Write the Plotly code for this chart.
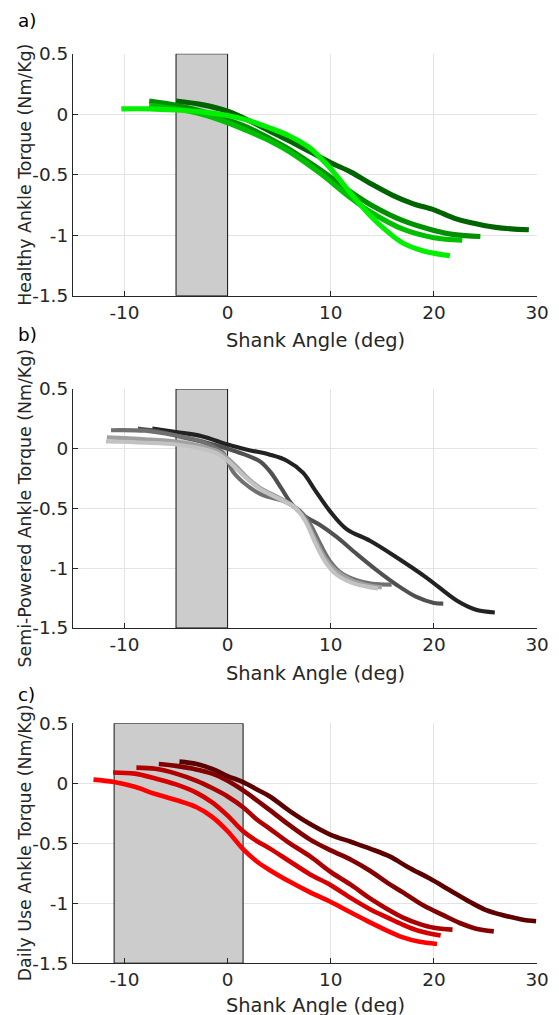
import plotly.graph_objects as go

# ---------------- shared axis ticks ----------------
x_ticks = [-10, 0, 10, 20, 30]
x_tick_labels = ["-10", "0", "10", "20", "30"]
y_ticks = [-1.5, -1, -0.5, 0, 0.5]
y_tick_labels = ["-1.5", "-1", "-0.5", "0", "0.5"]
x_range = [-15, 30]
y_range = [-1.5, 0.5]

panel_labels = ["a)", "b)", "c)"]
y_titles = ["Healthy Ankle Torque (Nm/Kg)",
            "Semi-Powered Ankle Torque (Nm/Kg)",
            "Daily Use Ankle Torque (Nm/Kg)"]
x_title = "Shank Angle (deg)"

# ---------------- panel a: healthy ----------------
healthy_shade = [-5, 0]
healthy_colors = ["#006400", "#009000", "#00BE00", "#00F000"]
healthy_x_1 = [-5, -2.5, 0, 2.5, 4.1, 6, 8, 10, 12, 13.8, 16, 18, 20, 22, 23.5, 26, 29.2]
healthy_y_1 = [0.11, 0.08, 0.025, -0.07, -0.14, -0.22, -0.31, -0.40, -0.48, -0.57, -0.67, -0.74, -0.79, -0.86, -0.895, -0.935, -0.955]
healthy_x_2 = [-7.6, -5, -2.5, 0, 2, 4.1, 6, 9, 11.9, 13.9, 17, 20, 22, 24.5]
healthy_y_2 = [0.11, 0.075, 0.025, -0.045, -0.11, -0.20, -0.29, -0.46, -0.64, -0.75, -0.88, -0.96, -0.995, -1.01]
healthy_x_3 = [-7.6, -5, -2.5, 0, 2, 4.1, 6, 9, 11.9, 13.9, 17, 20, 22.75]
healthy_y_3 = [0.075, 0.045, 0.0, -0.07, -0.14, -0.22, -0.31, -0.49, -0.69, -0.81, -0.95, -1.02, -1.04]
healthy_x_4 = [-10.3, -7.5, -5, -2.5, 0, 2, 4, 6, 8, 9, 10, 11.9, 13.9, 15.5, 17, 19, 21.55]
healthy_y_4 = [0.045, 0.045, 0.035, 0.02, -0.01, -0.05, -0.11, -0.18, -0.28, -0.36, -0.45, -0.65, -0.845, -0.97, -1.065, -1.13, -1.17]

# ---------------- panel b: semi-powered ----------------
semi_shade = [-5, 0]
semi_colors = ["#222222", "#505050", "#707070", "#a0a0a0", "#c2c2c2"]
semi_x_1 = [-7.3, -5, -2.5, 0, 2, 4.1, 5.75, 7.3, 8.5, 9.9, 11.5, 13.8, 16.4, 19.3, 22.2, 24, 25.9]
semi_y_1 = [0.17, 0.14, 0.105, 0.035, -0.01, -0.05, -0.10, -0.20, -0.35, -0.52, -0.67, -0.77, -0.91, -1.08, -1.27, -1.345, -1.37]
semi_x_2 = [-8.7, -7, -5, -2.5, 0, 2, 3.2, 4.2, 5.2, 6.2, 7.4, 9, 10.6, 12.5, 14.5, 16.4, 18.3, 20, 20.9]
semi_y_2 = [0.17, 0.15, 0.11, 0.06, 0.0, -0.06, -0.11, -0.20, -0.33, -0.46, -0.56, -0.64, -0.74, -0.88, -1.02, -1.14, -1.24, -1.29, -1.296]
semi_x_3 = [-11.3, -8, -5, -2.5, -0.5, 0, 0.5, 1.5, 3.2, 5.75, 7.0, 8.0, 9.0, 10, 11, 12.5, 14, 15.9]
semi_y_3 = [0.155, 0.15, 0.11, 0.06, -0.03, -0.10, -0.19, -0.28, -0.38, -0.45, -0.52, -0.63, -0.80, -0.95, -1.04, -1.10, -1.13, -1.137]
semi_x_4 = [-11.7, -8, -5, -2.5, -1, 0, 1, 2, 3.2, 5, 6.5, 7.5, 8.5, 9.5, 10.5, 12, 13.5, 14.95]
semi_y_4 = [0.095, 0.08, 0.06, 0.02, -0.02, -0.08, -0.16, -0.25, -0.33, -0.41, -0.49, -0.59, -0.76, -0.92, -1.02, -1.10, -1.14, -1.16]
semi_x_5 = [-11.8, -8, -5, -2.5, -1, 0, 1, 2, 3.2, 5, 6.5, 7.5, 8.5, 9.5, 10.5, 12, 13.5, 14.6]
semi_y_5 = [0.06, 0.05, 0.035, 0.0, -0.04, -0.10, -0.18, -0.26, -0.34, -0.42, -0.49, -0.60, -0.79, -0.95, -1.05, -1.12, -1.155, -1.17]

# ---------------- panel c: daily use ----------------
daily_shade = [-11, 1.5]
daily_colors = ["#5c0000", "#840000", "#ad0000", "#d60000", "#ff0000"]
daily_x_1 = [-4.67, -3, -1.5, 0, 1.5, 2.8, 4.1, 6, 8, 10, 12, 13.8, 15.7, 17.5, 19.6, 21.5, 23.5, 25, 26.7, 28.5, 29.9]
daily_y_1 = [0.18, 0.16, 0.12, 0.06, 0.01, -0.05, -0.11, -0.23, -0.34, -0.43, -0.49, -0.545, -0.61, -0.70, -0.795, -0.89, -0.99, -1.055, -1.10, -1.135, -1.15]
daily_x_2 = [-6.67, -5, -3.3, -1.5, 0, 1.5, 2.8, 4.1, 6, 8, 10, 12, 13.8, 15.5, 17, 19, 20.9, 22.5, 24, 25.8]
daily_y_2 = [0.16, 0.145, 0.12, 0.08, 0.02, -0.06, -0.14, -0.224, -0.35, -0.47, -0.56, -0.64, -0.73, -0.83, -0.91, -1.02, -1.10, -1.165, -1.21, -1.235]
daily_x_3 = [-8.84, -7, -5, -3, -1.5, 0, 1.5, 2.8, 4.1, 6, 8, 10, 12, 13.8, 15.5, 17, 18.5, 20, 21.8]
daily_y_3 = [0.13, 0.12, 0.08, 0.02, -0.04, -0.11, -0.20, -0.30, -0.38, -0.50, -0.61, -0.74, -0.85, -0.96, -1.05, -1.12, -1.17, -1.205, -1.22]
daily_x_4 = [-11.1, -9, -7, -5, -3, -1.5, 0, 1.5, 2.8, 4.1, 6, 8, 10, 12, 13.8, 15.5, 17, 18.5, 20.65]
daily_y_4 = [0.09, 0.08, 0.04, -0.01, -0.08, -0.16, -0.27, -0.40, -0.48, -0.545, -0.65, -0.76, -0.85, -0.96, -1.05, -1.12, -1.18, -1.23, -1.27]
daily_x_5 = [-13, -11, -9, -7, -5, -3, -1.5, 0, 1.5, 2.8, 4.1, 6, 8, 10, 12, 13.8, 15.5, 17, 18.5, 20.3]
daily_y_5 = [0.03, 0.01, -0.03, -0.09, -0.14, -0.20, -0.28, -0.40, -0.55, -0.65, -0.725, -0.82, -0.91, -0.99, -1.08, -1.16, -1.23, -1.285, -1.32, -1.34]

panels = [
    dict(shade=healthy_shade, colors=healthy_colors, width=5,
         xs=[healthy_x_1, healthy_x_2, healthy_x_3, healthy_x_4],
         ys=[healthy_y_1, healthy_y_2, healthy_y_3, healthy_y_4]),
    dict(shade=semi_shade, colors=semi_colors, width=4,
         xs=[semi_x_1, semi_x_2, semi_x_3, semi_x_4, semi_x_5],
         ys=[semi_y_1, semi_y_2, semi_y_3, semi_y_4, semi_y_5]),
    dict(shade=daily_shade, colors=daily_colors, width=4.5,
         xs=[daily_x_1, daily_x_2, daily_x_3, daily_x_4, daily_x_5],
         ys=[daily_y_1, daily_y_2, daily_y_3, daily_y_4, daily_y_5]),
]

# ---- target positions in the final picture, and the page->picture mapping ----
S, OY = 0.977, 11.3           # observed scale / vertical offset of the capture


def px(f):
    return f / S


def py(f):
    return (f - OY) / S


W = round(559 / S)
H = round(py(1015))
plot_left, plot_right = px(72.7), px(536.0)
panel_px = [(py(54.0), py(295.3)), (py(388.3), py(626.7)), (py(721.7), py(961.0))]
label_px_y = [py(21), py(334), py(693)]
xtitle_y = [py(340), py(672), py(1003)]

FONT = "DejaVu Sans"
TXT = "#262626"

fig = go.Figure()
layout = dict(width=W, height=H, margin=dict(l=0, r=0, t=0, b=0),
              paper_bgcolor="white", plot_bgcolor="white", showlegend=False,
              font=dict(family=FONT, color=TXT, size=17))
annotations = []
shapes = []

for i, p in enumerate(panels):
    n = i + 1
    xa = "xaxis" if n == 1 else f"xaxis{n}"
    ya = "yaxis" if n == 1 else f"yaxis{n}"
    xr = "x" if n == 1 else f"x{n}"
    yr = "y" if n == 1 else f"y{n}"
    top, bot = panel_px[i]
    ydom = [1 - bot / H, 1 - top / H]
    axis_common = dict(showgrid=True, gridcolor="#e3e3e3", gridwidth=1,
                       zeroline=False, showline=True, linecolor=TXT, linewidth=1,
                       ticks="inside", ticklen=5, tickcolor=TXT,
                       tickfont=dict(family=FONT, size=18.4, color=TXT))
    layout[xa] = dict(domain=[plot_left / W, plot_right / W], anchor=yr,
                      range=x_range, tickvals=x_ticks, ticktext=x_tick_labels,
                      **axis_common)
    layout[ya] = dict(domain=ydom, anchor=xr,
                      range=y_range, tickvals=y_ticks, ticktext=y_tick_labels,
                      **axis_common)
    shapes.append(dict(type="rect", xref=xr, yref=yr,
                       x0=p["shade"][0], x1=p["shade"][1],
                       y0=y_range[0], y1=y_range[1],
                       fillcolor="#cccccc", line=dict(color="#111111", width=1),
                       layer="between"))
    for xs, ys, c in zip(p["xs"], p["ys"], p["colors"]):
        fig.add_trace(go.Scatter(x=xs, y=ys, mode="lines", xaxis=xr, yaxis=yr,
                                 line=dict(color=c, width=p["width"] / S, shape="spline",
                                           smoothing=1.0),
                                 hoverinfo="skip"))
    annotations.append(dict(text=y_titles[i], xref="paper", yref="paper",
                            x=px(25) / W, y=(ydom[0] + ydom[1]) / 2, textangle=-90,
                            xanchor="center", yanchor="middle", showarrow=False,
                            font=dict(family=FONT, size=17.4, color=TXT)))
    annotations.append(dict(text=x_title, xref="paper", yref="paper",
                            x=px(315) / W, y=1 - xtitle_y[i] / H,
                            xanchor="center", yanchor="middle", showarrow=False,
                            font=dict(family=FONT, size=19.4, color=TXT)))
    annotations.append(dict(text=panel_labels[i], xref="paper", yref="paper",
                            x=px(16) / W, y=1 - label_px_y[i] / H,
                            xanchor="left", yanchor="middle", showarrow=False,
                            font=dict(family=FONT, size=18.4, color="#000000")))

layout["annotations"] = annotations
layout["shapes"] = shapes
fig.update_layout(**layout)

pin_js = (
    "document.documentElement.style.margin='0px';"
    "document.documentElement.style.overflow='hidden';"
    "document.body.style.margin='0px';"
    "document.body.style.overflow='hidden';"
    "var gd=document.getElementById('{plot_id}');"
    "gd.style.position='fixed';gd.style.left='0px';gd.style.top='0px';"
)
fig.write_html("out.html", config={"displayModeBar": False}, post_script=pin_js)
